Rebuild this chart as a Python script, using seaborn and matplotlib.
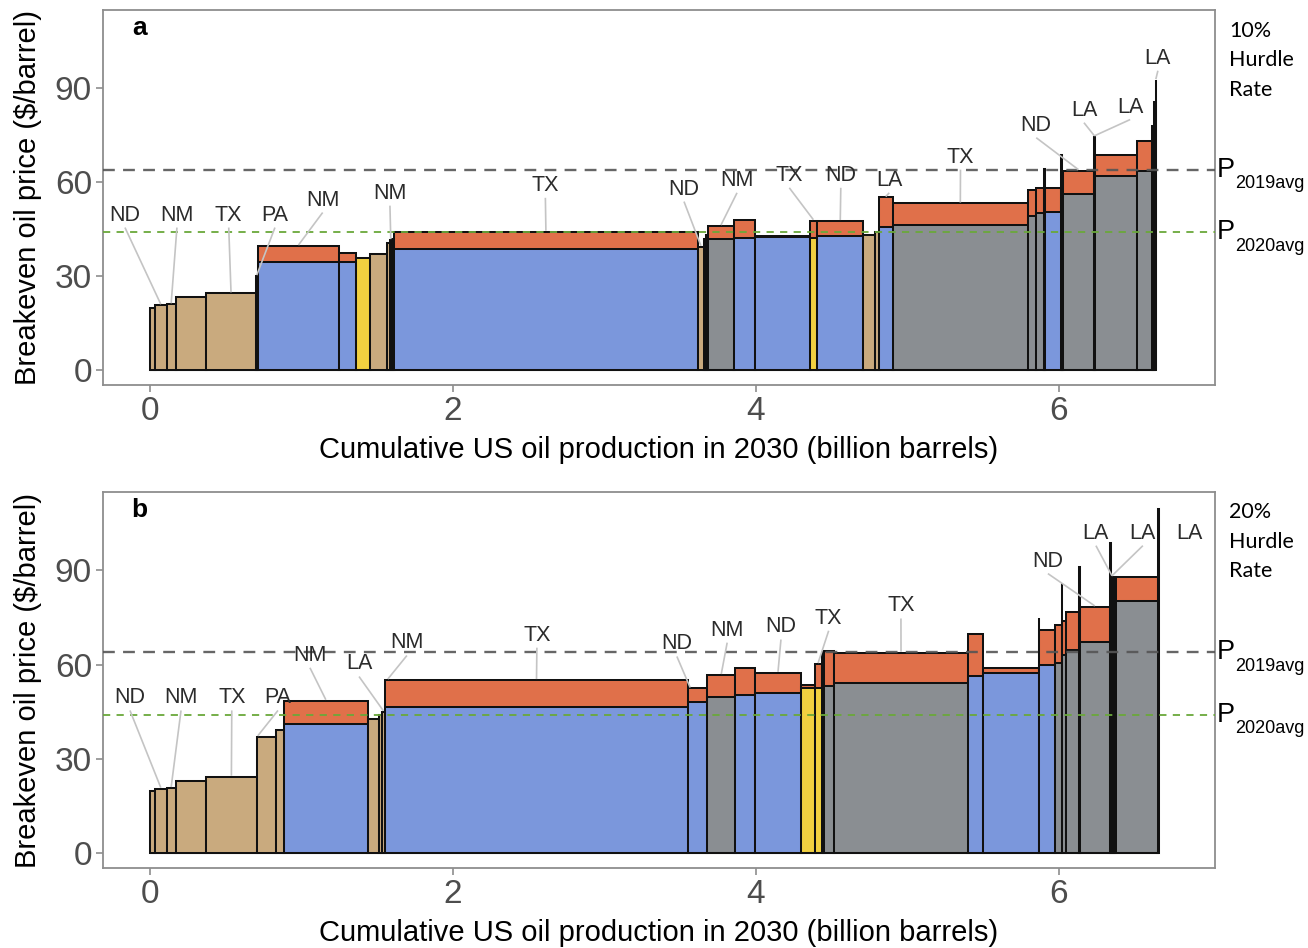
import numpy as np
import pandas as pd
import matplotlib
matplotlib.use("Agg")
import matplotlib.pyplot as plt
import seaborn as sns

# ---------------- Panel a: 10% hurdle rate ----------------
# Each field: production (billion barrels), breakeven base, added premium, resource type
a_width = [0.033, 0.077, 0.060, 0.200, 0.330, 0.010, 0.540, 0.110, 0.095, 0.112,
           0.015, 0.015, 0.015, 2.003, 0.043, 0.013, 0.013, 0.170, 0.140, 0.360,
           0.050, 0.305, 0.075, 0.025, 0.095, 0.890, 0.056, 0.054, 0.004, 0.104,
           0.006, 0.008, 0.205, 0.006, 0.280, 0.096, 0.003, 0.012, 0.010, 0.003]
a_base = [19.9, 20.7, 21.0, 23.2, 24.5, 30.0, 34.6, 34.6, 35.9, 37.2,
          40.5, 41.5, 42.0, 38.5, 39.4, 42.0, 43.0, 41.7, 42.3, 42.5,
          42.3, 42.8, 43.1, 44.0, 45.8, 46.3, 49.2, 50.0, 64.3, 50.5,
          68.6, 62.0, 56.2, 74.5, 62.0, 63.6, 78.2, 64.5, 85.7, 92.6]
a_prem = [0, 0, 0, 0, 0, 0, 5.0, 2.8, 0, 0,
          0, 0, 0, 5.7, 0, 0, 0, 4.3, 5.6, 0.4,
          5.4, 4.8, 0, 0, 9.3, 6.9, 8.4, 8.2, 0, 7.7,
          0, 0, 7.5, 0, 6.6, 9.4, 0, 3.5, 0, 0]
a_kind = ["T", "T", "T", "T", "T", "T", "B", "B", "Y", "T",
          "T", "B", "B", "B", "T", "G", "G", "G", "B", "B",
          "Y", "B", "T", "T", "B", "G", "G", "G", "G", "B",
          "G", "G", "G", "G", "G", "G", "G", "G", "G", "G"]

a_lab_text = ["ND", "NM", "TX", "PA", "NM", "NM", "TX", "ND", "NM", "TX",
              "ND", "LA", "TX", "ND", "LA", "LA", "LA"]
a_lab_bar = [1, 2, 4, 5, 6, 11, 13, 14, 17, 20, 21, 24, 25, 32, 33, 33, 39]

# ---------------- Panel b: 20% hurdle rate ----------------
b_width = [0.033, 0.077, 0.060, 0.200, 0.335, 0.130, 0.050, 0.552, 0.076, 0.018,
           0.019, 2.003, 0.127, 0.182, 0.134, 0.299, 0.092, 0.046, 0.015, 0.067,
           0.885, 0.096, 0.370, 0.004, 0.104, 0.044, 0.005, 0.021, 0.088, 0.004,
           0.201, 0.008, 0.010, 0.010, 0.011, 0.280, 0.004]
b_base = [19.7, 20.5, 20.7, 22.8, 24.3, 37.0, 39.3, 41.1, 42.8, 44.0,
          45.0, 46.5, 48.0, 49.8, 50.3, 50.8, 52.7, 52.7, 53.0, 53.2,
          54.1, 56.4, 57.2, 74.7, 59.9, 60.4, 85.9, 63.0, 64.6, 91.2,
          67.3, 98.7, 79.0, 79.5, 80.0, 80.3, 109.7]
b_prem = [0, 0, 0, 0, 0, 0, 0, 7.4, 0, 0,
          0, 8.6, 4.4, 6.9, 8.5, 6.6, 0.8, 7.5, 11.0, 11.2,
          9.7, 13.3, 1.6, 0, 11.1, 12.2, 0, 11.0, 12.2, 0,
          11.1, 0, 9.0, 8.5, 8.0, 7.7, 0]
b_kind = ["T", "T", "T", "T", "T", "T", "T", "B", "T", "T",
          "T", "B", "B", "G", "B", "B", "Y", "Y", "G", "G",
          "G", "B", "B", "B", "B", "G", "G", "G", "G", "G",
          "G", "G", "G", "G", "G", "G", "G"]

b_lab_text = ["ND", "NM", "TX", "PA", "NM", "LA", "NM", "TX", "ND", "NM",
              "ND", "TX", "TX", "ND", "LA", "LA", "LA"]
b_lab_bar = [1, 2, 4, 5, 7, 10, 11, 11, 12, 13, 15, 17, 20, 30, 32, 32, None]

# Reference prices ($/barrel)
p2019 = 64
p2020 = 44
hurdle = ["10%", "20%"]

# ---------------- label layout (data coordinates) ----------------
a_lab_xy = [(-0.165, 49.5), (0.178, 49.5), (0.52, 49.5), (0.825, 49.5), (1.14, 54.3),
            (1.584, 56.5), (2.61, 59.0), (3.525, 57.8), (3.875, 60.6), (4.22, 62.2),
            (4.56, 62.2), (4.88, 60.6), (5.35, 68.0), (5.85, 78.2), (6.165, 83.0),
            (6.47, 84.0), (6.653, 99.6)]
a_lab_frac = [0.5] * 17
b_lab_xy = [(-0.132, 49.4), (0.205, 49.4), (0.54, 49.4), (0.845, 49.4), (1.056, 63.0),
            (1.38, 60.2), (1.696, 66.9), (2.554, 69.4), (3.478, 66.6), (3.81, 71.0),
            (4.165, 72.0), (4.48, 74.8), (4.957, 78.7), (5.927, 93.0), (6.244, 101.9),
            (6.554, 101.9), (6.858, 101.9)]
b_lab_frac = [0.5, 0.5, 0.5, 0.05, 0.5, 0.5, 0.01, 0.5, 0.1, 0.5,
              0.5, 0.5, 0.5, 0.5, 0.5, 0.5, 0.5]

ORANGE = "#E0704A"
PALETTE = {"T": "#C9AA7E", "B": "#7B97DC", "Y": "#F1D040", "G": "#8A8E92"}
EDGE = "#111111"
FRAME = "#8e8e8e"

sns.set_theme(style="white")
plt.rcParams["font.family"] = ["Liberation Sans", "DejaVu Sans"]

fig = plt.figure(figsize=(13.08, 9.48), dpi=100)
W, H = 1308, 948


def px_axes(left, top, right, bottom):
    return fig.add_axes([left / W, 1 - bottom / H, (right - left) / W, (bottom - top) / H])


def draw_panel(ax, widths, base, prem, kind, lab_text, lab_bar, lab_xy, lab_frac, tag):
    edges = np.concatenate([[0.0], np.cumsum(widths)])
    bin_edges = [float(e) for e in edges]
    df = pd.DataFrame({
        "mid": (edges[:-1] + edges[1:]) / 2,
        "base": base,
        "total": np.add(base, prem),
        "kind": kind,
    })
    # premium segment: full-height bars, later covered by the base bars
    sns.histplot(data=df, x="mid", weights="total", bins=bin_edges, color=ORANGE,
                 alpha=1, edgecolor=EDGE, linewidth=1.45, ax=ax)
    sns.histplot(data=df, x="mid", weights="base", bins=bin_edges, hue="kind",
                 hue_order=["T", "B", "Y", "G"], palette=PALETTE, multiple="layer",
                 alpha=1, edgecolor=EDGE, linewidth=1.45, legend=False, ax=ax)

    ax.axhline(p2019, color="#555555", lw=1.7, ls=(0, (5, 3.5)), zorder=5, alpha=0.9)
    ax.axhline(p2020, color="#6aa83a", lw=1.3, ls=(0, (4, 3.5)), zorder=5)

    tops = df["total"].to_numpy()
    for txt, bi, (lx, ly), fr in zip(lab_text, lab_bar, lab_xy, lab_frac):
        if bi is not None:
            tx = edges[bi] + fr * (edges[bi + 1] - edges[bi])
            ty = tops[bi] + 0.3
            ax.plot([lx, tx], [ly - 4.0, ty], color="#c4c4c4", lw=1.2, zorder=6,
                    solid_capstyle="butt")
        ax.text(lx, ly, txt, ha="center", va="center", fontsize=15.5,
                color="#2b2b2b", zorder=7)

    ax.set_xlim(-0.31, 7.03)
    ax.set_ylim(-4.8, 115)
    ax.set_xticks([0, 2, 4, 6])
    ax.set_yticks([0, 30, 60, 90])
    ax.tick_params(axis="both", which="both", bottom=True, left=True, length=5,
                   width=1.2, color=FRAME, labelsize=24, labelcolor="#4d4d4d", pad=3)
    for s in ax.spines.values():
        s.set_visible(True)
        s.set_color(FRAME)
        s.set_linewidth(1.3)
    ax.set_xlabel("Cumulative US oil production in 2030 (billion barrels)",
                  fontsize=21, color="black")
    ax.set_ylabel("Breakeven oil price ($/barrel)", fontsize=21, color="black")
    ax.xaxis.set_label_coords(0.5, -0.135)
    ax.yaxis.set_label_coords(-0.055, 0.5)
    ax.text(0.033, 0.952, tag, transform=ax.transAxes, fontsize=19,
            fontweight="bold", ha="center", va="center", color="black")


ax_a = px_axes(103, 10, 1215, 385)
ax_b = px_axes(103, 492, 1215, 868)
draw_panel(ax_a, a_width, a_base, a_prem, a_kind, a_lab_text, a_lab_bar,
           a_lab_xy, a_lab_frac, "a")
draw_panel(ax_b, b_width, b_base, b_prem, b_kind, b_lab_text, b_lab_bar,
           b_lab_xy, b_lab_frac, "b")

# right-hand annotations
for hr, top, ax in zip(hurdle, [31, 512], [ax_a, ax_b]):
    for k, line in enumerate([hr, "Hurdle", "Rate"]):
        fig.text(1229 / W, 1 - (top + 29.5 * k) / H, line, fontsize=15.5,
                 family=["Lato", "DejaVu Sans"], ha="left", va="center", color="black")
    for price, sub in [(p2019, "2019avg"), (p2020, "2020avg")]:
        yd = ax.transData.transform((0, price))[1]
        fig.text(1217 / W, yd / H, "P", fontsize=19.5, ha="left", va="center", color="black")
        fig.text(1235 / W, (yd - 14) / H, sub, fontsize=13, ha="left", va="center",
                 color="black")

fig.savefig("out.png", dpi=100)
